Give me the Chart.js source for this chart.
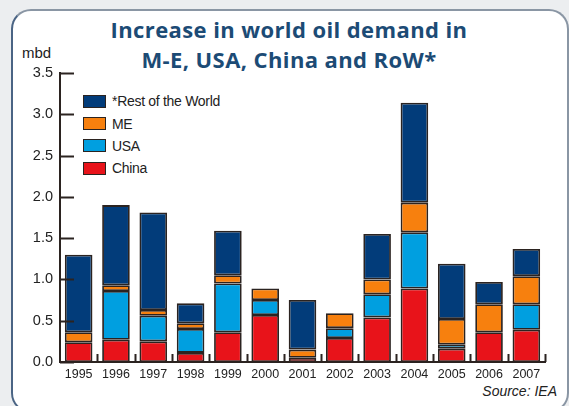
<!DOCTYPE html>
<html lang="en">
<head>
  <meta charset="UTF-8" />
  <title>Increase in world oil demand</title>
  <script src="https://cdn.jsdelivr.net/npm/chart.js"></script>
  <style>
    body {
      margin: 0;
      padding: 0;
      width: 569px;
      height: 406px;
      overflow: hidden;
      background-color: #eceef0;
      font-family: 'Liberation Sans', Arial, sans-serif;
    }

    .frame {
      position: absolute;
      left: 11px;
      top: 9px;
      width: 554px;
      height: 400px;
      background-color: #ffffff;
      border: 2px solid #8a96a4;
      border-left-color: #4a6484;
      border-bottom-color: #2f4a6c;
      border-radius: 20px;
    }

    .title {
      position: absolute;
      left: 89px;
      width: 400px;
      top: 14px;
      text-align: center;
      font-family: 'Open Sans', sans-serif;
      font-weight: 700;
      font-size: 22px;
      line-height: 30px;
      letter-spacing: 0.4px;
      color: #1c4b75;
    }

    .unit {
      position: absolute;
      left: 22px;
      top: 45px;
      font-size: 15px;
      line-height: 15px;
      color: #222;
    }

    .source {
      position: absolute;
      right: 12px;
      top: 384px;
      font-size: 14px;
      line-height: 14px;
      font-style: italic;
      color: #222;
    }

    .legend {
      position: absolute;
      left: 83px;
      top: 90px;
    }

    .legend-item {
      display: flex;
      align-items: center;
      height: 22.4px;
      font-size: 14px;
      color: #222;
      letter-spacing: -0.3px;
    }

    .legend-box {
      width: 21px;
      height: 11px;
      border: 1.5px solid #2b2320;
      margin-right: 6px;
    }

    #chartWrap {
      position: absolute;
      left: 0;
      top: 0;
      width: 569px;
      height: 406px;
    }
  </style>
</head>
<body>
  <div class="frame"></div>
  <div class="title">Increase in world oil demand in<br>M-E, USA, China and RoW*</div>
  <div class="unit">mbd</div>
  <div class="source">Source: IEA</div>
  <div class="legend" id="legend"></div>

  <div id="chartWrap">
    <canvas id="oilChart" width="569" height="406"></canvas>
  </div>

  <script>
    const years = ["1995", "1996", "1997", "1998", "1999", "2000", "2001",
                   "2002", "2003", "2004", "2005", "2006", "2007"];

    // mbd
    const china = [0.24, 0.27, 0.25, 0.11, 0.36, 0.57, 0.05, 0.29, 0.54, 0.89, 0.16, 0.36, 0.39];
    const usa   = [0.00, 0.59, 0.31, 0.29, 0.59, 0.18, 0.00, 0.12, 0.28, 0.68, 0.05, 0.00, 0.31];
    const me    = [0.12, 0.07, 0.07, 0.07, 0.10, 0.14, 0.10, 0.18, 0.18, 0.36, 0.31, 0.34, 0.34];
    const row   = [0.94, 0.97, 1.18, 0.24, 0.54, 0.00, 0.60, 0.00, 0.55, 1.21, 0.67, 0.27, 0.33];

    const yTicks = [0, 0.5, 1.0, 1.5, 2.0, 2.5, 3.0, 3.5];

    const COLORS = {
      china: "#e8131a",
      usa: "#009fe0",
      me: "#f7800e",
      row: "#023c7a"
    };
    const EDGE = "#2b2320";

    const datasets = [
      { label: "China", data: china, backgroundColor: COLORS.china },
      { label: "USA", data: usa, backgroundColor: COLORS.usa },
      { label: "ME", data: me, backgroundColor: COLORS.me },
      { label: "*Rest of the World", data: row, backgroundColor: COLORS.row }
    ].map(d => Object.assign(d, {
      borderColor: EDGE,
      borderWidth: 1.8,
      borderSkipped: false,
      categoryPercentage: 1.0,
      barPercentage: 0.74
    }));

    // legend, top item first
    const legendEl = document.getElementById("legend");
    datasets.slice().reverse().forEach(d => {
      const item = document.createElement("div");
      item.className = "legend-item";
      item.innerHTML = `<span class="legend-box" style="background:${d.backgroundColor}"></span>${d.label}`;
      legendEl.appendChild(item);
    });

    // inward tick marks like the printed chart
    const tickMarks = {
      id: "tickMarks",
      afterDatasetsDraw(chart) {
        const { ctx, chartArea, scales } = chart;
        const x = scales.x, y = scales.y;
        ctx.save();
        ctx.strokeStyle = EDGE;
        ctx.lineWidth = 2;
        yTicks.forEach(v => {
          const py = Math.round(y.getPixelForValue(v)) + 0.5;
          ctx.beginPath();
          ctx.moveTo(chartArea.left, py);
          ctx.lineTo(chartArea.left + 14, py);
          ctx.stroke();
        });
        const half = (x.getPixelForValue(1) - x.getPixelForValue(0)) / 2;
        for (let i = 1; i <= years.length; i++) {
          const px = Math.round(x.getPixelForValue(i - 1) + half) + 0.5;
          ctx.beginPath();
          ctx.moveTo(px, chartArea.bottom);
          ctx.lineTo(px, chartArea.bottom - 8);
          ctx.stroke();
        }
        ctx.restore();
      }
    };

    new Chart(document.getElementById("oilChart"), {
      type: "bar",
      data: { labels: years, datasets: datasets },
      plugins: [tickMarks],
      options: {
        responsive: false,
        animation: false,
        layout: { padding: { left: 0, right: 24, top: 73, bottom: 0 } },
        plugins: {
          legend: { display: false },
          tooltip: { enabled: false }
        },
        scales: {
          x: {
            stacked: true,
            grid: { display: false, drawTicks: false },
            border: { display: true, color: EDGE, width: 2 },
            ticks: {
              color: "#222",
              padding: 5,
              maxRotation: 0,
              autoSkip: false,
              font: { family: "'Liberation Sans', Arial, sans-serif", size: 12.5 }
            },
            afterFit: scale => { scale.height = 44; }
          },
          y: {
            stacked: true,
            min: 0,
            max: 3.5,
            grid: { display: false, drawTicks: false },
            border: { display: true, color: EDGE, width: 2 },
            afterBuildTicks: scale => {
              scale.ticks = yTicks.map(v => ({ value: v }));
            },
            ticks: {
              color: "#222",
              padding: 7,
              callback: v => Number(v).toFixed(1),
              font: { family: "'Liberation Sans', Arial, sans-serif", size: 14.5 }
            },
            afterFit: scale => { scale.width = 60; }
          }
        }
      }
    });
  </script>
</body>
</html>
